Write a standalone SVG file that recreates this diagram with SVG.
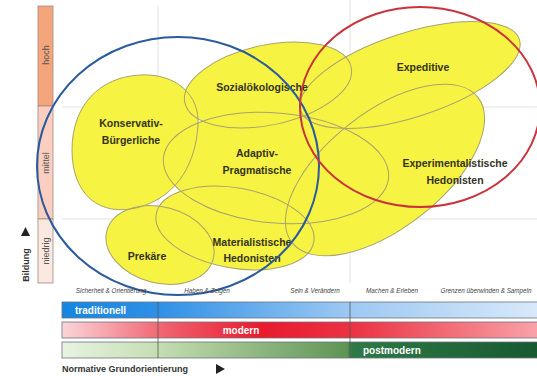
<svg xmlns="http://www.w3.org/2000/svg" width="537" height="376" viewBox="0 0 537 376">
<style>
.milieu{fill:#f6f342;stroke:none}
.outline{fill:none;stroke:#a9a36e;stroke-width:1}
.lbl{font-family:"Liberation Sans",Arial,sans-serif;font-weight:bold;font-size:10.5px;fill:#34321c;text-anchor:middle}
.axis{font-family:"Liberation Sans",Arial,sans-serif;font-style:italic;font-size:6.3px;fill:#444;text-anchor:middle}
.lvl{font-family:"Liberation Sans",Arial,sans-serif;font-size:9px;fill:#555;text-anchor:middle}
.bar{stroke:#6b7480;stroke-width:0.8}
.bartxt{font-family:"Liberation Sans",Arial,sans-serif;font-weight:bold;font-size:10px;fill:#fff}
.grid{stroke:#e2e2e2;stroke-width:1;fill:none}
.title{font-family:"Liberation Sans",Arial,sans-serif;font-weight:bold;font-size:9px;fill:#333}
</style>
<defs>
<linearGradient id="gTrad" x1="62" y1="0" x2="537" y2="0" gradientUnits="userSpaceOnUse">
<stop offset="0" stop-color="#1586e0"/><stop offset="0.2" stop-color="#2e90e6"/><stop offset="0.6" stop-color="#9cc8f2"/><stop offset="1" stop-color="#d8e9fa"/>
</linearGradient>
<linearGradient id="gMod" x1="62" y1="0" x2="537" y2="0" gradientUnits="userSpaceOnUse">
<stop offset="0" stop-color="#fad6da"/><stop offset="0.22" stop-color="#f0606c"/><stop offset="0.42" stop-color="#e81a2e"/><stop offset="0.62" stop-color="#ec3444"/><stop offset="1" stop-color="#f8a2a8"/>
</linearGradient>
<linearGradient id="gPost" x1="62" y1="0" x2="537" y2="0" gradientUnits="userSpaceOnUse">
<stop offset="0" stop-color="#e8f3e0"/><stop offset="0.2" stop-color="#c6deb4"/><stop offset="0.6" stop-color="#5e9454"/><stop offset="0.61" stop-color="#2e7a46"/><stop offset="1" stop-color="#175a30"/>
</linearGradient>
<path id="sKons" d="M140 75 C176 73 200 95 198 125 C196 160 180 195 140 207 C100 218 72 195 72 150 C72 105 100 77 140 75 Z"/>
<ellipse id="sSoz" cx="268" cy="85" rx="85" ry="40" transform="rotate(-12 268 85)"/>
<ellipse id="sExp" cx="410" cy="75" rx="115" ry="42" transform="rotate(-18 410 75)"/>
<ellipse id="sExH" cx="385" cy="170" rx="118" ry="58" transform="rotate(-38 385 170)"/>
<ellipse id="sAda" cx="276" cy="168" rx="113" ry="55" transform="rotate(5 276 168)"/>
<ellipse id="sMat" cx="235" cy="228" rx="80" ry="40" transform="rotate(10 235 228)"/>
<ellipse id="sPre" cx="160" cy="245" rx="55" ry="38" transform="rotate(15 160 245)"/>
</defs>
<rect width="537" height="376" fill="#fff"/>
<g id="grid">
<line class="grid" x1="62" y1="107" x2="537" y2="107"/>
<line class="grid" x1="62" y1="219" x2="537" y2="219"/>
<line class="grid" x1="158" y1="6" x2="158" y2="283"/>
<line class="grid" x1="350" y1="0" x2="350" y2="283"/>
</g>
<g id="bildung-axis">
<rect x="38" y="6" width="15" height="100" fill="#f4a57c" stroke="#a08a80" stroke-width="0.8"/>
<rect x="38" y="106" width="15" height="113" fill="#fbcfbf" stroke="#a08a80" stroke-width="0.8"/>
<rect x="38" y="219" width="15" height="64" fill="#fbe8e0" stroke="#a08a80" stroke-width="0.8"/>
<text class="lvl" transform="translate(48.5 55) rotate(-90)">hoch</text>
<text class="lvl" transform="translate(48.5 163) rotate(-90)">mittel</text>
<text class="lvl" transform="translate(48.5 251) rotate(-90)">niedrig</text>
<text class="title" transform="translate(28.5 265) rotate(-90)" text-anchor="middle">Bildung</text>
<polygon points="21,236 30,236 25.5,227" fill="#222"/>
</g>
<g id="milieus">
<g id="konservativ-buergerliche"><use href="#sKons" class="milieu"/></g>
<g id="sozialoekologische"><use href="#sSoz" class="milieu"/></g>
<g id="expeditive"><use href="#sExp" class="milieu"/></g>
<g id="experimentalistische-hedonisten"><use href="#sExH" class="milieu"/></g>
<g id="adaptiv-pragmatische"><use href="#sAda" class="milieu"/></g>
<g id="materialistische-hedonisten"><use href="#sMat" class="milieu"/></g>
<g id="prekaere"><use href="#sPre" class="milieu"/></g>
</g>
<g id="outlines">
<use href="#sKons" class="outline"/>
<use href="#sSoz" class="outline"/>
<use href="#sExp" class="outline"/>
<use href="#sExH" class="outline"/>
<use href="#sAda" class="outline"/>
<use href="#sMat" class="outline"/>
<use href="#sPre" class="outline"/>
</g>
<g id="labels">
<text class="lbl" x="131" y="127">Konservativ-</text>
<text class="lbl" x="131" y="144">Bürgerliche</text>
<text class="lbl" x="262" y="91">Sozialökologische</text>
<text class="lbl" x="257" y="157">Adaptiv-</text>
<text class="lbl" x="257" y="174">Pragmatische</text>
<text class="lbl" x="423" y="71">Expeditive</text>
<text class="lbl" x="455" y="167">Experimentalistische</text>
<text class="lbl" x="455" y="184">Hedonisten</text>
<text class="lbl" x="252" y="246">Materialistische</text>
<text class="lbl" x="252" y="262">Hedonisten</text>
<text class="lbl" x="147" y="260">Prekäre</text>
</g>
<g id="circles">
<ellipse cx="178" cy="166" rx="141" ry="129" fill="none" stroke="#2b5a9e" stroke-width="2"/>
<ellipse cx="420" cy="107" rx="120" ry="100" fill="none" stroke="#c9343c" stroke-width="2"/>
</g>
<g id="axis-labels">
<text class="axis" x="111" y="293">Sicherheit &amp; Orientierung</text>
<text class="axis" x="207" y="293">Haben &amp; Zeigen</text>
<text class="axis" x="315" y="293">Sein &amp; Verändern</text>
<text class="axis" x="392" y="293">Machen &amp; Erleben</text>
<text class="axis" x="486" y="293">Grenzen überwinden &amp; Sampeln</text>
</g>
<g id="bars">
<rect class="bar" x="62" y="302" width="480" height="16" fill="url(#gTrad)"/>
<rect class="bar" x="62" y="322" width="480" height="16" fill="url(#gMod)"/>
<rect class="bar" x="62" y="342" width="480" height="16" fill="url(#gPost)"/>
<line x1="158" y1="302" x2="158" y2="358" stroke="#555" stroke-width="0.8"/>
<line x1="350" y1="302" x2="350" y2="358" stroke="#555" stroke-width="0.8"/>
<text class="bartxt" x="75" y="314">traditionell</text>
<text class="bartxt" x="241" y="334" text-anchor="middle">modern</text>
<text class="bartxt" x="363" y="354">postmodern</text>
</g>
<g id="grundorientierung">
<text class="title" x="62" y="372">Normative Grundorientierung</text>
<polygon points="216,364 216,374 225,369" fill="#222"/>
</g>
</svg>
